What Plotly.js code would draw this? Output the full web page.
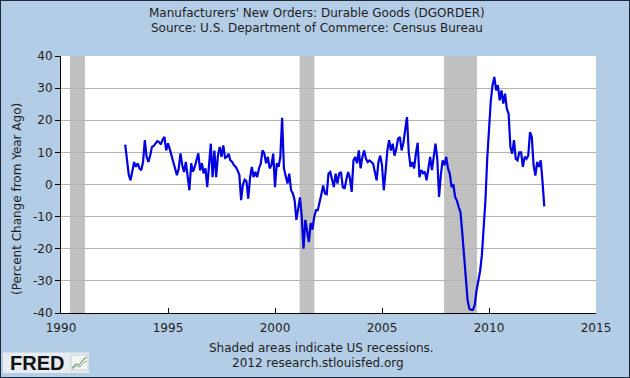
<!DOCTYPE html>
<html>
<head>
<meta charset="utf-8">
<script src="https://cdn.plot.ly/plotly-3.0.1.min.js"></script>
<style>
html,body{margin:0;padding:0;background:#b4cde6;}
#wrap{position:relative;width:630px;height:378px;}
#chart{width:630px;height:378px;}
#frame{position:absolute;left:0;top:0;width:630px;height:378px;box-sizing:border-box;border:1px solid #1c2a3a;pointer-events:none;}
</style>
</head>
<body>
<div id="wrap"><div id="chart"></div><div id="frame"></div></div>
<script>
// Monthly % change from year ago, Manufacturers' New Orders: Durable Goods
const startYear = 1993;
const v1993 = [12.4, 8, 3, 1.3, 4, 7, 5.5, 6.6, 5, 4.4, 7, 13.8];
const v1994 = [8.6, 7, 9, 11.7, 12, 12.7, 13.5, 13.2, 12.5, 14, 14.8, 10.6];
const v1995 = [12.8, 11, 9, 7, 5.5, 2.9, 5, 9.7, 6, 3.9, 7, 2.3];
const v1996 = [-1.8, 6.6, 4, 5.5, 7.5, 9.7, 4.4, 6.6, 3.5, 5, -0.8, 5];
const v1997 = [12.7, 2.3, 10.6, 2.3, 9, 11.7, 8.6, 12.2, 8.3, 8.6, 9.6, 7.5];
const v1998 = [7, 6, 5.5, 4.4, 3, -4.9, 0, 1.5, 1, -4.4, 2, 5.5];
const v1999 = [2.3, 3.9, 2.3, 5, 6.5, 10.6, 9.7, 6.6, 8.6, 5, 6, 9.6];
const v2000 = [-0.8, 6.6, 5.5, 8.6, 20.8, 5, 3, 0.3, 3.4, -1.8, -2.8, -4.9];
const v2001 = [-11, -7, -4, -10, -20, -11, -15, -17.9, -12, -14, -10, -8];
const v2002 = [-8, -5, -3, -0.3, -2.8, -3, 3.4, 3.9, 1, -0.8, 3.4, 0.3];
const v2003 = [3.4, 3.9, -0.8, -1.3, 1.5, 3.9, 2, -2.3, 7.5, 8.6, 6.6, 10.6];
const v2004 = [5, 8.6, 10.6, 8, 7, 7.5, 7, 6.5, 3.9, 1.3, 7, 9];
const v2005 = [6, -1.8, 4, 10.6, 13.8, 10.6, 12.7, 9, 11, 14.3, 14.8, 10.6];
const v2006 = [13, 17, 21, 10, 5.5, 7, 5, 9.6, 13, 2.3, 4.5, 3.5];
const v2007 = [4, 1.3, 5, 8.6, 4.5, 9.6, 12.7, 8, -3.9, 3, 7.5, 6];
const v2008 = [8.6, 5, 3.4, -0.8, 0, -3.9, -5, -7, -8.6, -15, -23, -30];
const v2009 = [-36, -38.7, -39, -39, -37.5, -33, -30, -27, -22, -14, -5, 8];
const v2010 = [19, 26, 31, 33.5, 29.3, 30.9, 26.2, 29.3, 25.2, 28.3, 23.6, 22];
const v2011 = [11.7, 9.6, 13.8, 8, 7.5, 10, 10, 5.5, 8.6, 8, 9, 16.3];
const v2012 = [14.8, 6, 2.8, 7, 5.5, 7.5, 1, -6.8];

// Recession periods (decimal years, start/end)
const recessionStarts = [1990.42, 2001.15, 2007.90];
const recessionEnds   = [1991.12, 2001.84, 2009.44];

const xTickVals = [1990, 1995, 2000, 2005, 2010, 2015];
const yTickVals = [-40, -30, -20, -10, 0, 10, 20, 30, 40];

const titleLines = ["Manufacturers' New Orders: Durable Goods (DGORDER)",
                    "Source: U.S. Department of Commerce: Census Bureau"];

const values = [].concat(v1993, v1994, v1995, v1996, v1997, v1998, v1999, v2000,
  v2001, v2002, v2003, v2004, v2005, v2006, v2007, v2008, v2009, v2010, v2011, v2012);
const dates = values.map((_, i) => startYear + i / 12);

// layout geometry (container pixels -> paper coords)
const W = 630, H = 378;
const M = {l: 61, r: 34, t: 56, b: 65};
const PW = W - M.l - M.r, PH = H - M.t - M.b;
const px = x => (x - M.l) / PW;
const py = y => (H - M.b - y) / PH;

const FONT = 'DejaVu Sans, Verdana, sans-serif';
const TXT = '#1e1e1e';

const shapes = recessionStarts.map((s, i) => ({
  type: 'rect', xref: 'x', yref: 'paper', x0: s, x1: recessionEnds[i], y0: 0, y1: 1,
  fillcolor: '#c0c0c0', line: {width: 0}, layer: 'below'
}));
// FRED logo box + mini icon (decoration)
shapes.push({type: 'rect', xref: 'paper', yref: 'paper', x0: px(3), x1: px(89), y0: py(373), y1: py(352.5),
  fillcolor: '#e6ecf2', line: {width: 0}});
shapes.push({type: 'rect', xref: 'paper', yref: 'paper', x0: px(71), x1: px(88), y0: py(370), y1: py(355),
  fillcolor: '#f4f6f4', line: {color: '#c8d0c8', width: 1}});
shapes.push({type: 'path', xref: 'paper', yref: 'paper',
  path: `M ${px(72)} ${py(368)} L ${px(76)} ${py(364)} L ${px(79)} ${py(365)} L ${px(83)} ${py(360)} L ${px(87)} ${py(357)}`,
  line: {color: '#7fa878', width: 1.2}});
shapes.push({type: 'path', xref: 'paper', yref: 'paper',
  path: `M ${px(72)} ${py(369)} L ${px(76)} ${py(366)} L ${px(80)} ${py(367)} L ${px(84)} ${py(362)} L ${px(87)} ${py(361)}`,
  line: {color: '#a0a8a0', width: 1}});

const trace = {
  x: dates, y: values, type: 'scatter', mode: 'lines',
  line: {color: '#0000e0', width: 2.2}, hoverinfo: 'skip'
};

const layout = {
  width: W, height: H,
  margin: {l: M.l, r: M.r, t: M.t, b: M.b, pad: 0},
  paper_bgcolor: '#b4cde6', plot_bgcolor: '#ffffff',
  showlegend: false,
  font: {family: FONT, size: 12, color: TXT},
  xaxis: {
    range: [1990, 2015], tickmode: 'array', tickvals: xTickVals,
    ticktext: xTickVals.map(String),
    ticks: 'inside', ticklen: 5, tickcolor: '#000', tickwidth: 1,
    showline: true, linecolor: '#000', linewidth: 1,
    showgrid: false, zeroline: false, ticklabelstandoff: 4,
    tickfont: {family: FONT, size: 12, color: TXT}
  },
  yaxis: {
    range: [-40, 40], tickmode: 'array', tickvals: yTickVals,
    ticktext: yTickVals.map(String),
    ticks: 'outside', ticklen: 5, tickcolor: '#000', tickwidth: 1,
    showline: true, linecolor: '#000', linewidth: 1,
    showgrid: true, gridcolor: '#b4b4b4', gridwidth: 1, zeroline: false,
    tickfont: {family: FONT, size: 12, color: TXT}
  },
  shapes: shapes,
  annotations: [
    {text: titleLines[0], xref: 'paper', yref: 'paper', x: px(317), y: py(13),
     showarrow: false, xanchor: 'center', yanchor: 'middle', font: {family: FONT, size: 12, color: TXT}},
    {text: titleLines[1], xref: 'paper', yref: 'paper', x: px(317), y: py(28.5),
     showarrow: false, xanchor: 'center', yanchor: 'middle', font: {family: FONT, size: 12, color: TXT}},
    {text: '(Percent Change from Year Ago)', xref: 'paper', yref: 'paper', x: px(17), y: py(199),
     textangle: -90, showarrow: false, xanchor: 'center', yanchor: 'middle',
     font: {family: FONT, size: 12, color: TXT}},
    {text: 'Shaded areas indicate US recessions.', xref: 'paper', yref: 'paper', x: px(321), y: py(347.5),
     showarrow: false, xanchor: 'center', yanchor: 'middle', font: {family: FONT, size: 12, color: TXT}},
    {text: '2012 research.stlouisfed.org', xref: 'paper', yref: 'paper', x: px(318), y: py(363.3),
     showarrow: false, xanchor: 'center', yanchor: 'middle', font: {family: FONT, size: 12, color: TXT}},
    {text: '<b>FRED</b>', xref: 'paper', yref: 'paper', x: px(36.5), y: py(362.5),
     showarrow: false, xanchor: 'center', yanchor: 'middle',
     font: {family: 'Liberation Sans, Arial, sans-serif', size: 20, color: '#111'}}
  ]
};

Plotly.newPlot('chart', [trace], layout, {staticPlot: true, displayModeBar: false});
</script>
</body>
</html>
